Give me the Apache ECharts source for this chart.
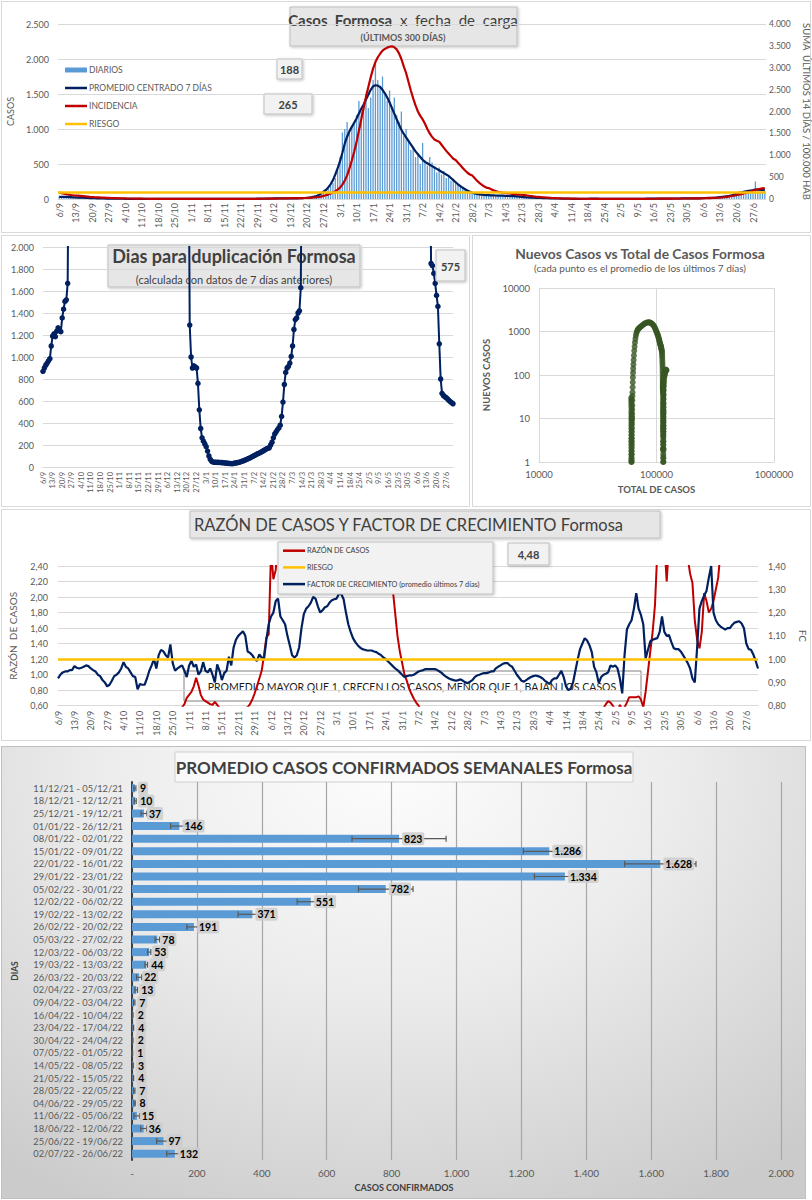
<!DOCTYPE html>
<html><head><meta charset="utf-8">
<script src="https://cdn.jsdelivr.net/npm/echarts@6/dist/echarts.min.js"></script>
<style>
html,body{margin:0;padding:0;background:#fff;}
body{width:812px;height:1200px;position:relative;overflow:hidden;font-family:Lato,sans-serif;}
.frame{position:absolute;box-sizing:border-box;border:1px solid #d9d9d9;background:#fff;}
.chart{position:absolute;}
</style></head><body>
<div class="frame" style="left:1px;top:1px;width:810px;height:232px"></div>
<div class="frame" style="left:1px;top:235px;width:469px;height:272px"></div>
<div class="frame" style="left:472px;top:235px;width:339px;height:272px"></div>
<div class="frame" style="left:1px;top:509px;width:810px;height:232px"></div>
<div class="frame" style="left:1px;top:746px;width:805px;height:453px;border-color:#bfbfbf;background:radial-gradient(ellipse 80% 110% at 48% 4%, #fdfdfd 0%, #ececec 45%, #cbcbcb 100%);"></div>
<div id="c1" class="chart" style="left:0;top:0;width:812px;height:235px"></div>
<div id="c2" class="chart" style="left:0;top:235px;width:470px;height:272px"></div>
<div id="c3" class="chart" style="left:472px;top:235px;width:340px;height:272px"></div>
<div id="c4" class="chart" style="left:0;top:508px;width:812px;height:234px"></div>
<div id="c5" class="chart" style="left:0;top:746px;width:812px;height:454px"></div>
<script>
// ---------- DATA (one row = one week, starting Monday 6/9/2021) ----------
const DIARIOS = [
 38,31,26,35,28,24,22, 25,20,18,22,15,14,12, 14,11,9,12,8,7,6, 7,5,6,4,5,3,3,
 4,3,5,2,3,2,1, 2,3,1,2,1,2,1, 1,2,1,0,2,1,1, 1,0,2,1,1,0,1,
 2,1,1,0,1,2,0, 1,1,2,1,0,1,2, 1,2,1,2,1,3,2, 2,3,2,4,3,2,3,
 3,5,4,6,5,7,6, 8,10,9,11,8,10,9, 11,9,12,10,8,11,13, 18,24,30,38,45,52,60,
 95,120,150,190,230,300,420, 600,950,1000,1100,950,1020,1100, 1200,1400,1250,1350,1500,1300,1450,
 1700,1950,1700,1600,1750,1500,1400, 1550,1300,1450,1200,1100,1250,900, 1000,850,700,750,600,650,500,
 800,550,480,600,520,450,380, 450,350,400,300,330,260,290, 240,200,180,170,150,130,110,
 95,80,70,75,65,60,55, 60,55,50,48,52,45,50, 45,42,48,40,44,38,30, 28,25,22,20,18,15,16,
 14,13,12,11,10,12,9, 8,7,6,8,5,6,3, 2,3,1,2,2,1,3, 4,5,3,4,6,3,2,
 2,1,3,2,2,1,1, 1,0,2,1,1,2,2, 3,4,2,3,5,3,4, 5,4,3,5,4,6,7,
 6,8,7,9,6,8,8, 7,9,8,10,6,9,12, 14,18,16,15,17,20,25, 30,38,35,42,40,45,60,
 85,110,95,120,105,100,130, 120,250,115,105,100,110
];
const PROMEDIO_7D = [
 30,30,29,29,28,26,24, 22,20,19,18,16,14,13, 12,11,10,9,8,7,6, 6,5,5,5,4,4,4,
 3,3,3,3,2,2,2, 2,2,2,2,1,1,1, 1,1,1,1,1,1,1, 1,1,1,1,1,1,1,
 1,1,1,1,1,1,1, 1,1,1,1,1,1,1, 2,2,2,2,2,2,2, 2,3,3,3,3,3,3,
 4,4,5,5,6,6,7, 8,9,9,9,9,10,10, 10,10,10,10,11,12,14, 17,21,27,34,43,56,78,
 105,130,165,210,270,350,440, 540,660,790,890,970,1030,1090, 1150,1220,1290,1350,1420,1490,1560,
 1610,1625,1620,1600,1560,1510,1450, 1380,1300,1220,1140,1060,990,930, 880,830,780,730,680,640,600,
 560,530,510,490,470,450,430, 410,390,370,350,330,300,270, 240,210,185,160,140,120,105,
 90,80,72,66,62,58,56, 54,52,51,50,49,48,47, 45,44,43,42,40,37,34, 30,27,24,22,20,18,16,
 15,14,13,12,11,10,9, 8,7,7,6,6,5,4, 3,2,2,2,2,2,3, 3,4,4,4,4,3,3,
 3,2,2,2,2,1,1, 1,1,1,1,2,2,2, 3,3,3,3,4,4,4, 4,4,5,5,5,5,6,
 6,7,7,7,7,8,8, 8,8,8,9,9,10,11, 13,14,15,16,18,20,23, 28,32,36,40,45,53,62,
 75,86,95,101,108,115,122, 128,135,133,130,128,126
];
const INCIDENCIA_14D = [
 150,135,120,110,100,92,85, 80,75,70,65,60,55,50, 46,42,39,36,33,30,27, 25,23,21,19,17,15,14,
 13,12,11,10,9,8,7, 7,6,6,5,5,4,4, 4,3,3,3,3,3,2, 2,2,2,2,2,2,2,
 2,2,2,2,2,2,2, 2,2,2,2,2,2,2, 2,2,3,3,3,3,3, 3,4,4,4,4,4,5,
 5,5,6,6,7,7,8, 9,10,11,12,13,14,15, 17,18,19,20,21,22,23, 25,27,30,34,38,46,56,
 70,85,100,125,150,180,215, 260,330,420,540,700,880,1080, 1300,1560,1820,2080,2340,2560,2780,
 2980,3130,3240,3320,3390,3430,3460, 3480,3490,3470,3420,3330,3200,3030, 2880,2680,2480,2300,2140,2000,1900,
 1820,1720,1600,1500,1420,1360,1330, 1310,1240,1170,1100,1040,980,920, 890,830,770,710,650,600,560,
 540,480,420,370,330,290,260, 250,225,200,180,165,155,145, 140,132,125,118,112,106,100, 97,90,82,75,68,61,55,
 50,45,40,35,31,27,23, 20,17,15,13,12,11,10, 9,8,7,6,6,5,5, 5,5,5,5,5,5,5,
 5,5,5,4,4,4,4, 4,4,4,4,4,4,4, 4,5,5,5,5,5,6, 6,6,7,7,7,8,8,
 8,9,9,10,10,11,11, 12,12,13,14,14,15,16, 17,19,20,22,24,26,28, 31,36,42,50,58,68,78,
 90,100,112,125,140,155,170, 190,205,220,232,243,252
];
const RIESGO_INCIDENCIA = 150;

// Días para duplicación (null = fuera del gráfico)
const DIAS_DUPLICACION = [
 870,900,925,945,965,985,1100, 1190,1210,1185,1235,1265,1245,1230, 1355,1435,1505,1520,1670,3500,null,
 null,null,null,null,null,null,null, null,null,null,null,null,null,null, null,null,null,null,null,null,null,
 null,null,null,null,null,null,null, null,null,null,null,null,null,null, null,null,null,null,null,null,null,
 null,null,null,null,null,null,null, null,null,null,null,null,null,null, null,null,null,null,null,null,null,
 null,null,null,null,null,null,null, null,null,null,null,null,null,null, null,null,null,null,null,null,null,
 null,3500,1290,1000,900,920,910, 900,760,520,350,265,235,210, 185,145,100,70,52,45,44,
 43,42,42,41,40,40,38, 36,35,33,32,31,30,33, 36,38,40,43,47,52,56, 60,66,72,78,84,90,97,
 103,110,117,123,128,135,142, 150,158,165,170,175,200,225, 265,300,320,340,355,380,460,
 590,750,860,900,915,945,1005, 1100,1250,1340,1355,1400,1420,1630, 3500,null,null,null,null,null,null,
 null,null,null,null,null,null,null, null,null,null,null,null,null,null, null,null,null,null,null,null,null,
 null,null,null,null,null,null,null, null,null,null,null,null,null,null, null,null,null,null,null,null,null,
 null,null,null,null,null,null,null, null,null,null,null,null,null,null, null,null,null,null,null,null,null,
 null,null,null,null,null,null,null, null,null,null,null,null,null,null, null,null,null,null,null,null,null,
 null,null,3500,1850,1830,1760,1670, 1560,1460,1120,800,670,650,640, 630,620,605,595,585,575
];
const DUPLICACION_ACTUAL = 575;

// Nuevos casos (promedio 7 días) vs total de casos: [total, nuevos]
const PUNTOS_NUEVOS_VS_TOTAL = [
 [61000,30],[61030,27],[61060,24],[61085,21],[61105,18],[61125,15],[61140,13],[61155,11],[61168,9.5],[61180,8],
 [61190,7],[61200,6],[61208,5],[61215,4.2],[61222,3.5],[61228,3],[61233,2.5],[61238,2.1],[61242,1.8],[61246,1.5],
 [61249,1.3],[61252,1.1],[61255,1],[61270,1],[61300,1.2],[61330,1.5],[61360,1.8],[61390,2.2],[61420,2.6],[61455,3],
 [61490,3.5],[61530,4.2],[61575,5],[61625,6],[61685,7.5],[61750,9],[61820,10],[61895,11],[61975,13],[62060,16],
 [62150,20],[62260,26],[62380,33],[62510,40],[62650,52],[62800,68],[62960,88],[63140,112],[63350,140],[63600,175],
 [63900,220],[64250,280],[64650,360],[65100,450],[65600,560],[66150,680],[66750,800],[67400,910],[68100,1000],[68900,1070],
 [69800,1130],[70800,1180],[71900,1230],[73100,1280],[74400,1330],[75800,1390],[77300,1450],[78800,1500],[80400,1550],[82000,1590],
 [83600,1615],[85200,1625],[86800,1620],[88400,1600],[90000,1560],[91500,1510],[92900,1450],[94300,1380],[95600,1300],[96800,1220],
 [97900,1140],[98900,1060],[99900,990],[100800,930],[101700,880],[102500,830],[103300,780],[104000,730],[104700,680],[105400,640],
 [106000,600],[106600,560],[107100,530],[107600,510],[108100,490],[108600,470],[109100,450],[109500,430],[109900,410],[110300,390],
 [110700,370],[111000,350],[111300,330],[111600,300],[111800,270],[112000,240],[112200,210],[112350,185],[112500,160],[112620,140],
 [112730,120],[112830,105],[112910,90],[112990,80],[113060,72],[113120,66],[113180,62],[113240,58],[113300,56],[113350,54],
 [113400,52],[113450,51],[113500,50],[113550,49],[113600,48],[113650,47],[113700,45],[113745,44],[113790,43],[113830,42],
 [113870,40],[113905,37],[113935,34],[113965,30],[113990,27],[114010,24],[114030,22],[114050,20],[114065,18],[114080,16],
 [114095,15],[114108,14],[114120,13],[114132,12],[114143,11],[114153,10],[114162,9],[114170,8],[114177,7],[114184,6.5],
 [114190,6],[114196,5.5],[114201,5],[114205,4],[114208,3],[114210,2.5],[114212,2],[114214,2],[114216,2],[114218,2],
 [114220,1.5],[114222,1.2],[114224,1],[114226,1],[114230,1.3],[114235,1.8],[114240,2.5],[114248,3],[114258,3.5],[114270,4],
 [114285,4.5],[114300,5],[114320,6],[114345,7],[114375,8],[114410,9],[114450,11],[114500,13],[114560,15],[114630,18],
 [114720,22],[114830,28],[114970,35],[115150,45],[115380,55],[115660,65],[116000,75],[116400,86],[116850,96],[117350,101],
 [117900,108],[118500,115],[119100,122],[119750,128],[120400,133],[121050,130],[121700,128]
];

// Razón de casos (eje izq.) y factor de crecimiento (eje der.)
const RAZON_CASOS = [
 0.55,0.52,0.50,0.48,0.47,0.45,0.44, 0.45,0.43,0.42,0.40,0.41,0.39,0.38, 0.40,0.38,0.36,0.37,0.35,0.34,0.33,
 0.35,0.36,0.38,0.40,0.42,0.40,0.38, 0.42,0.40,0.38,0.36,0.35,0.33,0.30, 0.32,0.35,0.38,0.42,0.45,0.48,0.50,
 0.47,0.50,0.52,0.50,0.48,0.46,0.50, 0.48,0.46,0.50,0.53,0.58,0.62,0.70, 0.74,0.78,0.85,0.96,0.86,0.74,0.68,
 0.66,0.64,0.62,0.61,0.65,0.61,0.57, 0.55,0.52,0.50,0.48,0.50,0.52,0.50, 0.53,0.55,0.56,0.57,0.58,0.62,0.68,
 0.76,0.85,0.95,1.05,1.25,1.48,1.52, 2.60,2.23,2.35,2.80,3.20,3.60,4.00, 4.20,4.50,4.30,4.00,3.80,3.60,3.50,
 3.40,3.30,3.50,3.70,3.90,4.10,4.30, 4.50,4.70,5.00,5.20,5.40,5.50,5.60, 5.50,5.20,4.90,4.50,4.10,3.80,3.50,
 3.30,3.10,3.00,2.90,2.85,2.80,2.75, 2.70,2.70,2.65,2.65,2.60,2.60,2.55, 2.50,2.60,2.35,2.10,1.80,1.50,1.30,
 1.15,1.00,0.92,0.82,0.75,0.69,0.64, 0.60,0.55,0.52,0.50,0.48,0.46,0.45, 0.44,0.43,0.42,0.42,0.41,0.40,0.40,
 0.40,0.39,0.39,0.38,0.38,0.37,0.37, 0.37,0.38,0.38,0.40,0.42,0.44,0.45, 0.46,0.48,0.50,0.52,0.54,0.55,0.56,
 0.55,0.54,0.52,0.50,0.47,0.45,0.43, 0.40,0.38,0.36,0.35,0.34,0.33,0.32, 0.32,0.31,0.30,0.30,0.30,0.29,0.29,
 0.28,0.28,0.27,0.27,0.26,0.26,0.25, 0.25,0.26,0.28,0.30,0.32,0.35,0.38, 0.40,0.42,0.45,0.47,0.50,0.52,0.54,
 0.55,0.56,0.57,0.62,0.66,0.64,0.60, 0.55,0.52,0.61,0.55,0.58,0.64,0.71, 0.71,0.71,0.71,0.72,0.68,0.58,0.78,
 1.04,1.30,1.55,1.90,2.60,3.00,2.80, 2.70,2.20,2.70,3.20,3.50,3.30,3.00, 2.90,2.80,2.70,2.50,2.30,2.18,1.70,
 1.45,1.34,1.55,2.05,1.95,1.80,1.85, 1.95,2.10,2.25,2.60,3.00,3.30,3.50, 3.70,3.80,3.90,4.00,4.10,4.20,4.30,
 4.35,4.40,4.42,4.45,4.46,4.48
];
const FACTOR_CRECIMIENTO = [
 0.917,0.933,0.943,0.947,0.947,0.953,0.953, 0.970,0.963,0.960,0.963,0.967,0.973,0.970, 0.960,0.953,0.947,0.933,0.927,0.910,0.900,
 0.883,0.890,0.907,0.927,0.933,0.943,0.960, 0.987,0.967,0.960,0.943,0.927,0.923,0.870, 0.893,0.890,0.890,0.917,0.950,0.973,1.000,
 0.960,1.017,1.040,1.033,1.017,1.007,1.063, 0.983,0.950,0.960,0.967,0.973,0.950,0.923, 0.973,0.993,0.967,0.977,0.933,0.947,0.987,
 0.950,0.943,0.960,0.933,0.900,0.977,0.950, 0.910,0.940,0.950,1.010,0.973,1.050,1.083, 1.100,1.110,1.120,1.100,1.033,1.027,1.017,
 1.000,0.993,1.020,1.007,1.000,1.083,1.150, 1.183,1.200,1.250,1.260,1.183,1.167,1.150, 1.100,1.060,1.017,1.007,1.017,1.050,1.133,
 1.193,1.217,1.227,1.243,1.267,1.260,1.227, 1.200,1.210,1.223,1.227,1.243,1.253,1.257, 1.260,1.280,1.280,1.257,1.200,1.150,1.117,
 1.090,1.073,1.060,1.050,1.043,1.040,1.037, 1.037,1.037,1.033,1.030,1.023,1.017,1.007, 1.000,0.990,0.980,0.970,0.960,0.953,0.943,
 0.933,0.923,0.927,0.930,0.930,0.933,0.940, 0.947,0.950,0.953,0.957,0.957,0.957,0.957, 0.957,0.953,0.947,0.940,0.930,0.923,0.917,
 0.913,0.910,0.907,0.910,0.913,0.907,0.900, 0.897,0.903,0.910,0.923,0.930,0.933,0.937, 0.940,0.940,0.943,0.947,0.947,0.960,0.967,
 0.973,0.980,0.983,0.983,0.973,0.967,0.950, 0.933,0.920,0.907,0.903,0.910,0.917,0.923, 0.927,0.930,0.927,0.923,0.917,0.907,0.900,
 0.893,0.910,0.917,0.917,0.933,0.950,0.923, 0.883,0.867,0.873,0.900,0.950,1.000,1.043, 1.067,1.090,1.080,1.060,1.030,0.967,0.943,
 0.897,0.923,0.933,0.937,0.943,0.973,0.967, 0.973,0.960,0.917,0.853,1.017,1.127,1.150, 1.167,1.217,1.283,1.217,1.190,1.150,1.003,
 1.040,1.077,1.083,1.087,1.090,1.117,1.183, 1.117,1.100,1.103,1.073,1.047,1.043,1.043, 1.033,1.017,1.000,0.983,0.960,0.917,0.900,
 1.050,1.217,1.250,1.273,1.293,1.350,1.400, 1.200,1.167,1.150,1.140,1.133,1.127,1.133, 1.133,1.147,1.157,1.160,1.163,1.153,1.133,
 1.067,1.043,1.040,1.020,0.993,0.960
];
const RIESGO_RAZON = 1.2;
const RAZON_ACTUAL = 4.48;

// Promedio semanal de casos confirmados
const SEMANAS = [
 "11/12/21 - 05/12/21","18/12/21 - 12/12/21","25/12/21 - 19/12/21","01/01/22 - 26/12/21","08/01/22 - 02/01/22",
 "15/01/22 - 09/01/22","22/01/22 - 16/01/22","29/01/22 - 23/01/22","05/02/22 - 30/01/22","12/02/22 - 06/02/22",
 "19/02/22 - 13/02/22","26/02/22 - 20/02/22","05/03/22 - 27/02/22","12/03/22 - 06/03/22","19/03/22 - 13/03/22",
 "26/03/22 - 20/03/22","02/04/22 - 27/03/22","09/04/22 - 03/04/22","16/04/22 - 10/04/22","23/04/22 - 17/04/22",
 "30/04/22 - 24/04/22","07/05/22 - 01/05/22","14/05/22 - 08/05/22","21/05/22 - 15/05/22","28/05/22 - 22/05/22",
 "04/06/22 - 29/05/22","11/06/22 - 05/06/22","18/06/22 - 12/06/22","25/06/22 - 19/06/22","02/07/22 - 26/06/22"
];
const PROMEDIO_SEMANAL = [9,10,37,146,823,1286,1628,1334,782,551,371,191,78,53,44,22,13,7,2,4,2,1,3,4,7,8,15,36,97,132];
const DESVIO_SEMANAL = [3,3,9,27,145,80,110,94,84,42,44,22,7,5,4,8,4,2,1,1,1,1,1,1,2,2,9,9,21,25];

const VALOR_188 = 188, VALOR_265 = 265;

// ---------- helpers ----------
function dayLabels(n){ const out=[]; const d=new Date(2021,8,6); for(let i=0;i<n;i++){ out.push(d.getDate()+'/'+(d.getMonth()+1)); d.setDate(d.getDate()+1);} return out; }
function miles(v){ return String(Math.round(v)).replace(/\B(?=(\d{3})+(?!\d))/g,'.'); }
function dec2(v){ return v.toFixed(2).replace('.',','); }
const FONT='Lato, sans-serif';
const GRAY='#595959', DARK='#404040', GRID='#d9d9d9';
const DIAS = dayLabels(DIARIOS.length);

function box(x,y,w,h,fill,z){ return {type:'rect', z:z||0, shape:{x:x,y:y,width:w,height:h}, style:{fill:fill||'#e7e6e6', stroke:'#bfbfbf', lineWidth:1, shadowBlur:3, shadowOffsetX:1, shadowOffsetY:1, shadowColor:'rgba(0,0,0,0.25)'}}; }
function txt(x,y,s,size,weight,color,align,z){ return {type:'text', z:z||0, x:x, y:y, style:{text:s, fontSize:size, fontWeight:weight||'normal', fontFamily:FONT, fill:color||DARK, align:align||'center', verticalAlign:'middle'}}; }
// legend entry drawn as graphic: kind 'line' or 'rect'
function legendItem(x,y,kind,color,label,size,tcolor,z){
  const icon = kind==='rect'
    ? {type:'rect', z:z||0, shape:{x:x,y:y-2.5,width:22,height:5}, style:{fill:color}}
    : {type:'line', z:z||0, shape:{x1:x,y1:y,x2:x+22,y2:y}, style:{stroke:color, lineWidth:2.5}};
  return [icon, txt(x+24,y,label,size,'normal',tcolor,'left',z)];
}

// ---------- Chart 1 ----------
const c1 = echarts.init(document.getElementById('c1'), null, {renderer:'svg'});
const SERIES1 = [
  {name:'DIARIOS', kind:'rect', color:'#5b9bd5'},
  {name:'PROMEDIO CENTRADO 7 DÍAS', kind:'line', color:'#002060'},
  {name:'INCIDENCIA', kind:'line', color:'#c00000'},
  {name:'RIESGO', kind:'line', color:'#ffc000'}
];
let legend1 = [];
SERIES1.forEach(function(s,i){ legend1 = legend1.concat(legendItem(65, 70+i*18, s.kind, s.color, s.name, 8.5, GRAY, 10)); });
c1.setOption({
  animation:false, textStyle:{fontFamily:FONT},
  grid:{left:58, top:24, width:708, height:175, outerBoundsMode:'none'},
  xAxis:{type:'category', data:DIAS, boundaryGap:true,
    axisLine:{lineStyle:{color:GRID}}, axisTick:{show:false},
    axisLabel:{interval:6, rotate:90, fontSize:9, color:GRAY, margin:4}},
  yAxis:[
    {type:'value', min:0, max:2500, interval:500, name:'CASOS', nameLocation:'middle', nameRotate:90, nameGap:36,
     nameTextStyle:{fontSize:9, color:GRAY}, axisLabel:{formatter:miles, fontSize:9, color:GRAY, margin:9},
     splitLine:{lineStyle:{color:GRID}}, axisLine:{show:false}, axisTick:{show:false}},
    {type:'value', min:0, max:4000, interval:500, position:'right', name:'SUMA  ÚLTIMOS 14 DÍAS / 100.000 HAB',
     nameLocation:'middle', nameRotate:-90, nameGap:31, nameTextStyle:{fontSize:9.5, color:GRAY},
     axisLabel:{formatter:miles, fontSize:8.5, color:GRAY, margin:3}, splitLine:{show:false}, axisLine:{show:false}, axisTick:{show:false}}
  ],
  series:[
    {name:'DIARIOS', type:'bar', data:DIARIOS, barWidth:'55%', itemStyle:{color:'#5b9bd5'}},
    {name:'PROMEDIO CENTRADO 7 DÍAS', type:'line', data:PROMEDIO_7D, symbol:'none', lineStyle:{color:'#002060', width:2.2}, itemStyle:{color:'#002060'}},
    {name:'INCIDENCIA', type:'line', yAxisIndex:1, data:INCIDENCIA_14D, symbol:'none', lineStyle:{color:'#c00000', width:2.2}, itemStyle:{color:'#c00000'}},
    {name:'RIESGO', type:'line', yAxisIndex:1, data:[], symbol:'none', z:5, lineStyle:{color:'#ffc000', width:2.5}, itemStyle:{color:'#ffc000'},
     markLine:{silent:true, symbol:'none', label:{show:false}, lineStyle:{color:'#ffc000', width:2.5, type:'solid'}, data:[{yAxis:RIESGO_INCIDENCIA}]}}
  ],
  graphic:[
    box(290,7,227,39),
    {type:'text', x:403, y:20, style:{text:'{b|Casos  Formosa}  x  fecha  de  carga', fontSize:15, fontFamily:FONT, fill:DARK, align:'center', verticalAlign:'middle',
      rich:{b:{fontSize:15, fontWeight:'bold', fontFamily:FONT, fill:DARK}}}},
    txt(403,37,'(ÚLTIMOS 300 DÍAS)',9,'bold',GRAY),
    box(277,59,25,20,'#f2f2f2'), txt(289.5,69,String(VALOR_188),11,'bold',DARK),
    box(264,94,48,20,'#f2f2f2'), txt(288,104,String(VALOR_265),11,'bold',DARK)
  ].concat(legend1)
});

// ---------- Chart 2 ----------
const c2 = echarts.init(document.getElementById('c2'), null, {renderer:'svg'});
c2.setOption({
  animation:false, textStyle:{fontFamily:FONT},
  grid:{left:43, top:12, width:410, height:220, outerBoundsMode:'none'},
  xAxis:{type:'category', data:DIAS, boundaryGap:false, axisLine:{lineStyle:{color:GRID}}, axisTick:{show:false},
    axisLabel:{interval:6, rotate:90, fontSize:7.5, color:GRAY, margin:5}},
  yAxis:{type:'value', min:0, max:2000, interval:200, axisLabel:{formatter:miles, fontSize:9, color:GRAY, margin:9},
    splitLine:{lineStyle:{color:GRID}}, axisLine:{show:false}, axisTick:{show:false}},
  series:[{type:'line', data:DIAS_DUPLICACION, symbol:'circle', symbolSize:5.5, showAllSymbol:true, connectNulls:false,
    lineStyle:{color:'#002060', width:2}, itemStyle:{color:'#002060'}}],
  graphic:[
    box(108,10,252,42),
    txt(234,21,'Dias para duplicación Formosa',18,'bold',DARK),
    txt(234,44,'(calculada con datos de 7 días anteriores)',11,'normal',DARK),
    box(436,15,29,31,'#f2f2f2',10), txt(450.5,31,String(DUPLICACION_ACTUAL),11,'bold',DARK,'center',10)
  ]
});

// ---------- Chart 3 ----------
const c3 = echarts.init(document.getElementById('c3'), null, {renderer:'svg'});
const plain = function(v){ return String(Math.round(v)); };
c3.setOption({
  animation:false, textStyle:{fontFamily:FONT},
  grid:{left:67, top:53, width:235, height:174, outerBoundsMode:'none'},
  xAxis:{type:'log', logBase:10, min:10000, max:1000000, name:'TOTAL DE CASOS', nameLocation:'middle', nameGap:22,
    nameTextStyle:{fontSize:9.5, fontWeight:'bold', color:GRAY}, axisLabel:{formatter:plain, fontSize:9.5, color:GRAY, margin:7},
    splitLine:{show:true, lineStyle:{color:GRID}}, axisLine:{lineStyle:{color:GRID}}, axisTick:{show:false}},
  yAxis:{type:'log', logBase:10, min:1, max:10000, name:'NUEVOS CASOS', nameLocation:'middle', nameRotate:90, nameGap:42,
    nameTextStyle:{fontSize:9.5, fontWeight:'bold', color:GRAY}, axisLabel:{formatter:plain, fontSize:9.5, color:GRAY, margin:9},
    splitLine:{show:true, lineStyle:{color:GRID}}, axisLine:{lineStyle:{color:GRID}}, axisTick:{show:false}},
  series:[{type:'scatter', data:PUNTOS_NUEVOS_VS_TOTAL, symbol:'circle', symbolSize:6, itemStyle:{color:'#375623'}}],
  graphic:[
    txt(168,18,'Nuevos Casos vs Total de Casos Formosa',13.8,'bold',GRAY),
    txt(168,33,'(cada punto es el promedio de los últimos 7 días)',10,'normal',GRAY)
  ]
});

// ---------- Chart 4 ----------
const c4 = echarts.init(document.getElementById('c4'), null, {renderer:'svg'});
const SERIES4 = [
  {name:'RAZÓN DE CASOS', color:'#c00000'},
  {name:'RIESGO', color:'#ffc000'},
  {name:'FACTOR DE CRECIMIENTO (promedio últimos 7 días)', color:'#002060'}
];
let legend4 = [];
SERIES4.forEach(function(s,i){ legend4 = legend4.concat(legendItem(283, 42.7+i*16.7, 'line', s.color, s.name, 7.3, DARK, 11)); });
c4.setOption({
  animation:false, textStyle:{fontFamily:FONT},
  grid:{left:58, top:58, width:700, height:139.7, outerBoundsMode:'none'},
  xAxis:{type:'category', data:DIAS, boundaryGap:false, axisLine:{lineStyle:{color:GRID}}, axisTick:{show:false},
    axisLabel:{interval:6, rotate:90, fontSize:9, color:GRAY, margin:5}},
  yAxis:[
    {type:'value', min:0.6, max:2.4, interval:0.2, name:'RAZÓN  DE CASOS', nameLocation:'middle', nameRotate:90, nameGap:40,
     nameTextStyle:{fontSize:10, color:GRAY}, axisLabel:{formatter:dec2, fontSize:9, color:GRAY, margin:10},
     splitLine:{lineStyle:{color:GRID}}, axisLine:{show:false}, axisTick:{show:false}},
    {type:'value', min:0.8, max:1.4, interval:0.1, position:'right', name:'FC', nameLocation:'middle', nameRotate:-90, nameGap:40,
     nameTextStyle:{fontSize:10, color:GRAY}, axisLabel:{formatter:dec2, fontSize:9, color:GRAY, margin:10},
     splitLine:{show:false}, axisLine:{show:false}, axisTick:{show:false}}
  ],
  series:[
    {name:'RAZÓN DE CASOS', type:'line', data:RAZON_CASOS, symbol:'none', lineStyle:{color:'#c00000', width:2}, itemStyle:{color:'#c00000'}},
    {name:'RIESGO', type:'line', data:[], symbol:'none', lineStyle:{color:'#ffc000', width:2.5}, itemStyle:{color:'#ffc000'},
     markLine:{silent:true, symbol:'none', label:{show:false}, lineStyle:{color:'#ffc000', width:2.5, type:'solid'}, data:[{yAxis:RIESGO_RAZON}]}},
    {name:'FACTOR DE CRECIMIENTO (promedio últimos 7 días)', type:'line', yAxisIndex:1, data:FACTOR_CRECIMIENTO, symbol:'none', z:4,
     lineStyle:{color:'#002060', width:2.2}, itemStyle:{color:'#002060'}}
  ],
  graphic:[
    box(190,3,470,27),
    {type:'text', x:194, y:16.5, style:{text:'RAZÓN DE CASOS Y FACTOR DE CRECIMIENTO Formosa', fontSize:16.5, fontFamily:FONT, fill:DARK, align:'left', verticalAlign:'middle'}},
    box(278,34,215,52,'#f2f2f2',10),
    box(508,35,41,22,'#f2f2f2',10), txt(528.5,46,dec2(RAZON_ACTUAL),11,'bold',DARK,'center',11),
    {type:'rect', shape:{x:184,y:163,width:457,height:30}, style:{fill:'none', stroke:'#808080', lineWidth:1}},
    txt(412,179,'PROMEDIO MAYOR QUE 1, CRECEN LOS CASOS, MENOR QUE 1, BAJAN LOS CASOS',10.5,'normal','#1a1a1a')
  ].concat(legend4)
});

// ---------- Chart 5 ----------
const c5 = echarts.init(document.getElementById('c5'), null, {renderer:'svg'});
c5.setOption({
  animation:false, textStyle:{fontFamily:FONT},
  grid:{left:132, top:36, width:649, height:378, outerBoundsMode:'none'},
  xAxis:{type:'value', min:0, max:2000, interval:200,
    axisLabel:{formatter:function(v){return v===0?'-':miles(v);}, fontSize:10, color:GRAY, margin:8},
    splitLine:{lineStyle:{color:'#a6a6a6', width:1.2}}, axisLine:{show:false}, axisTick:{show:false}},
  yAxis:{type:'category', inverse:true, data:SEMANAS, name:'DIAS', nameLocation:'middle', nameRotate:90, nameGap:113,
    nameTextStyle:{fontSize:8.5, fontWeight:'bold', color:DARK},
    axisLabel:{fontSize:9.3, color:GRAY, margin:9}, axisLine:{lineStyle:{color:DARK, width:2}}, axisTick:{show:false}},
  series:[
    {type:'bar', data:PROMEDIO_SEMANAL, barWidth:8, itemStyle:{color:'#5b9bd5'}, z:2},
    {type:'custom', z:3, data:PROMEDIO_SEMANAL.map(function(v,i){return [v,i,DESVIO_SEMANAL[i]];}), encode:{x:0,y:1},
     renderItem:function(params, api){
       var v=api.value(0), idx=api.value(1), e=api.value(2);
       var p1=api.coord([Math.max(0,v-e), idx]), p2=api.coord([v+e, idx]), pv=api.coord([v, idx]);
       var st={stroke:'#595959', lineWidth:1.2}, h=3;
       return {type:'group', children:[
         {type:'line', shape:{x1:p1[0],y1:p1[1],x2:p2[0],y2:p2[1]}, style:st},
         {type:'line', shape:{x1:p1[0],y1:p1[1]-h,x2:p1[0],y2:p1[1]+h}, style:st},
         {type:'line', shape:{x1:p2[0],y1:p2[1]-h,x2:p2[0],y2:p2[1]+h}, style:st},
         {type:'text', x:pv[0]+3, y:pv[1], style:{text:miles(v), fontSize:10.5, fontWeight:'bold', fontFamily:FONT, fill:'#000',
           align:'left', verticalAlign:'middle', backgroundColor:'rgba(205,205,205,0.85)', padding:[1,2], borderRadius:2}}
       ]};
     }}
  ],
  graphic:[
    {type:'rect', shape:{x:175,y:6,width:458,height:30}, style:{fill:'rgba(250,250,250,0.85)', stroke:'#cfcfcf', lineWidth:1}},
    txt(404,21,'PROMEDIO CASOS CONFIRMADOS SEMANALES Formosa',17,'bold',DARK),
    txt(404,441,'CASOS CONFIRMADOS',9,'bold',DARK)
  ]
});
</script>
</body></html>
